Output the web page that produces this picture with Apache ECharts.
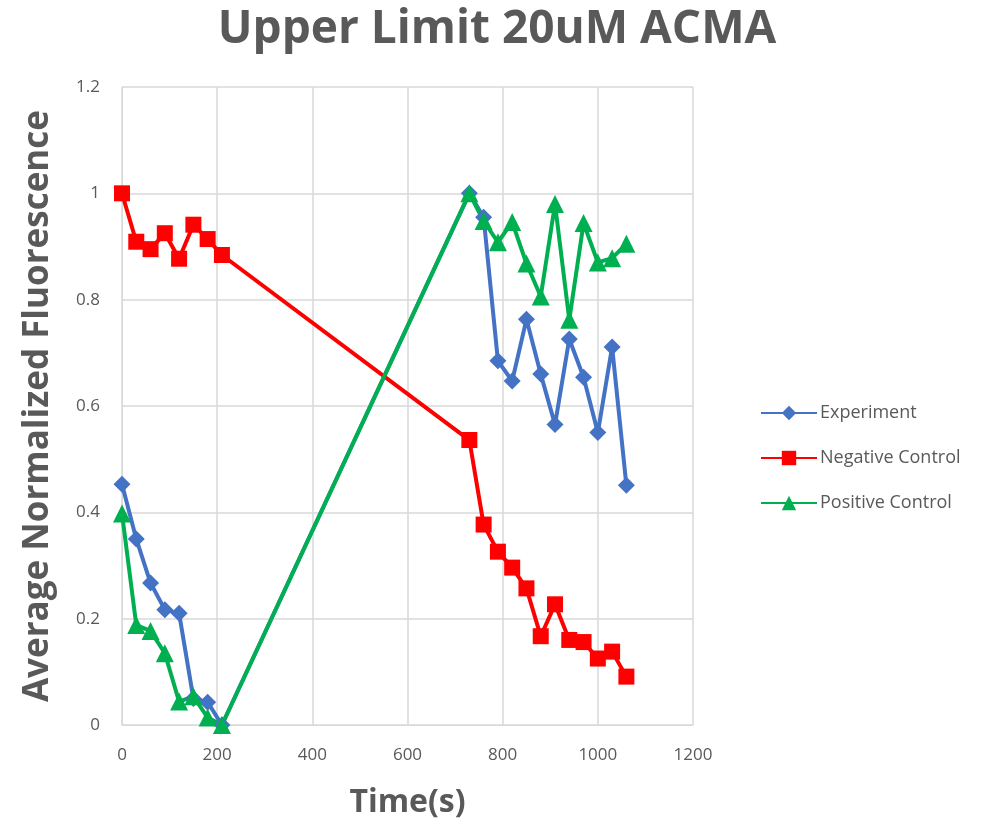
<!DOCTYPE html>
<html lang="en">
<head>
    <meta charset="UTF-8">
    <title>Upper Limit 20uM ACMA</title>
    <script src="https://cdn.jsdelivr.net/npm/echarts@6/dist/echarts.min.js"></script>
    <style>
        body { margin: 0; background: #fff; }
        #chart { width: 1005px; height: 822px; }
    </style>
</head>
<body>
<div id="chart"></div>
<script type="text/javascript">
// time points (s)
var times = [0, 30, 60, 90, 120, 150, 180, 210, 730, 760, 790, 820, 850, 880, 910, 940, 970, 1000, 1030, 1060];

var experiment = [0.453, 0.350, 0.267, 0.217, 0.210, 0.050, 0.043, 0.0,
    1.0, 0.955, 0.685, 0.647, 0.763, 0.660, 0.565, 0.726, 0.654, 0.550, 0.711, 0.451];
var negativeControl = [1.0, 0.909, 0.895, 0.925, 0.877, 0.941, 0.914, 0.884,
    0.536, 0.377, 0.326, 0.296, 0.257, 0.167, 0.227, 0.160, 0.156, 0.125, 0.138, 0.091];
var positiveControl = [0.398, 0.188, 0.177, 0.135, 0.044, 0.054, 0.014, 0.0,
    1.0, 0.948, 0.908, 0.946, 0.868, 0.806, 0.980, 0.762, 0.944, 0.870, 0.878, 0.905];

var seriesNames = ['Experiment', 'Negative Control', 'Positive Control'];

function pairs(vals) {
    var out = [];
    for (var i = 0; i < times.length; i++) {
        out.push([times[i], vals[i]]);
    }
    return out;
}

var txt = '#595959';
var font = '"Open Sans", "Liberation Sans", sans-serif';

var myChart = echarts.init(document.getElementById('chart'), null, {renderer: 'canvas'});
var option = {
    animation: false,
    backgroundColor: '#fff',
    title: {
        text: 'Upper Limit 20uM ACMA',
        left: 492,
        textAlign: 'center',
        top: 2,
        textStyle: {color: txt, fontSize: 46, fontWeight: 'bold', fontFamily: font}
    },
    grid: {left: 122, right: 312, top: 87, bottom: 97, outerBoundsMode: 'none'},
    legend: {
        orient: 'vertical',
        left: 755,
        top: 399,
        itemGap: 27,
        itemWidth: 56,
        itemHeight: 18,
        data: seriesNames,
        textStyle: {color: txt, fontSize: 18, fontFamily: font, padding: [0, 0, 0, -2]}
    },
    xAxis: {
        type: 'value',
        min: 0,
        max: 1200,
        interval: 200,
        name: 'Time(s)',
        nameLocation: 'middle',
        nameGap: 62,
        nameTextStyle: {color: txt, fontSize: 32, fontWeight: 'bold', fontFamily: font},
        axisLine: {show: true, lineStyle: {color: '#d9d9d9', width: 1}},
        axisTick: {show: false},
        axisLabel: {
            color: txt, fontSize: 17, fontFamily: font, margin: 22,
            formatter: function (v) { return String(v); }
        },
        splitLine: {show: true, lineStyle: {color: '#d9d9d9', width: 1.5}}
    },
    yAxis: {
        type: 'value',
        min: 0,
        max: 1.2,
        interval: 0.2,
        name: 'Average Normalized Fluorescence',
        nameLocation: 'middle',
        nameGap: 66,
        nameTextStyle: {color: txt, fontSize: 35, fontWeight: 'bold', fontFamily: font},
        axisLine: {show: true, lineStyle: {color: '#d9d9d9', width: 1}},
        axisTick: {show: false},
        axisLabel: {
            color: txt, fontSize: 17, fontFamily: font, margin: 22,
            formatter: function (v) { return String(Math.round(v * 10) / 10); }
        },
        splitLine: {show: true, lineStyle: {color: '#d9d9d9', width: 1.5}}
    },
    series: [{
        name: seriesNames[0],
        type: 'line',
        data: pairs(experiment),
        symbol: 'diamond',
        symbolSize: 17,
        color: '#4472C4',
        lineStyle: {width: 4}
    }, {
        name: seriesNames[1],
        type: 'line',
        data: pairs(negativeControl),
        symbol: 'rect',
        symbolSize: 16,
        color: '#FF0000',
        lineStyle: {width: 4}
    }, {
        name: seriesNames[2],
        type: 'line',
        data: pairs(positiveControl),
        symbol: 'triangle',
        symbolSize: 18,
        color: '#00B050',
        lineStyle: {width: 4}
    }]
};
myChart.setOption(option);
</script>
</body>
</html>
